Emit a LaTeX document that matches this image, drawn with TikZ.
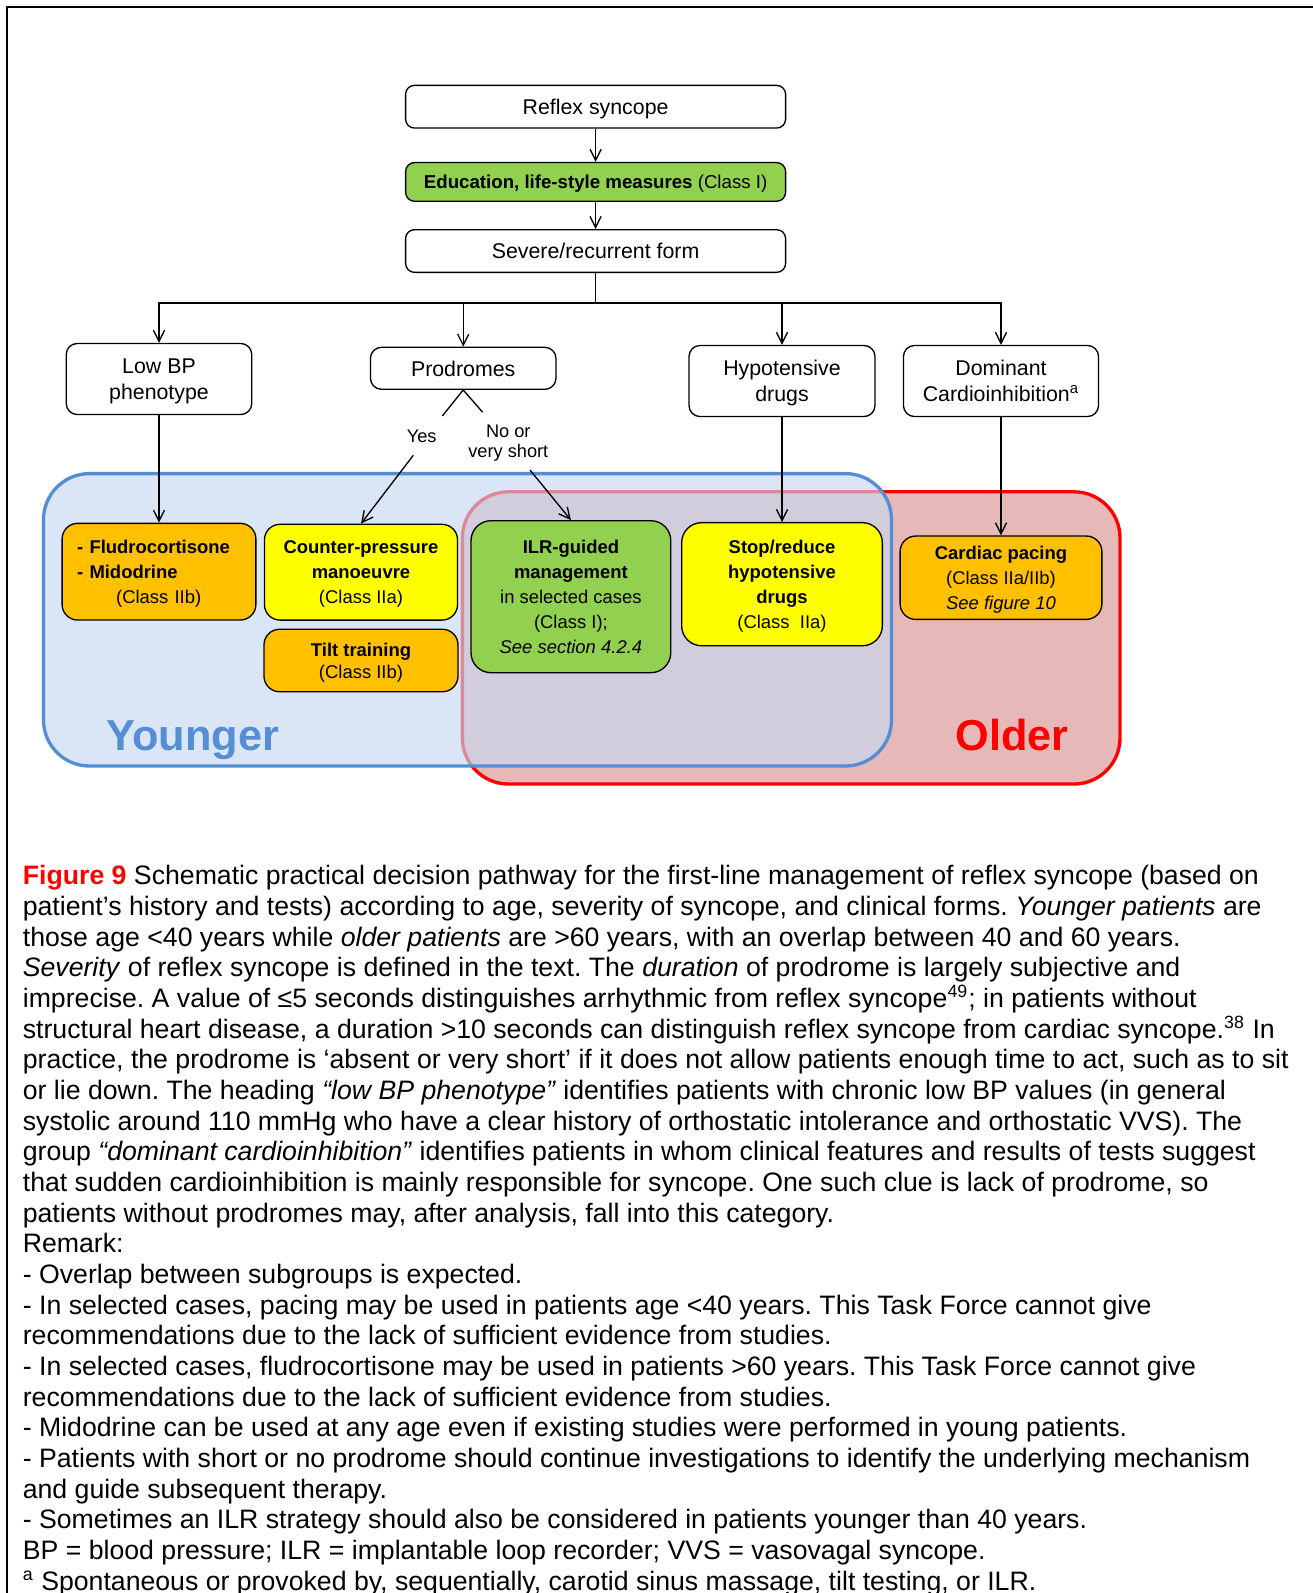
\documentclass[tikz,border=0pt]{standalone}
\usepackage{fontspec}
\setmainfont{Liberation Sans}
\usetikzlibrary{arrows.meta}
\definecolor{bborder}{RGB}{85,142,213}
\definecolor{bfill}{RGB}{198,217,241}
\definecolor{rfill}{RGB}{230,185,184}
\definecolor{rborder}{RGB}{255,0,0}
\definecolor{cgreen}{RGB}{146,208,80}
\definecolor{corange}{RGB}{255,192,0}
\definecolor{cyellow}{RGB}{255,255,0}
\begin{document}
\frenchspacing
\begin{tikzpicture}[x=0.45pt,y=-0.45pt,
  box/.style={draw=black, line width=0.6pt, rounded corners=4pt, align=center, inner sep=0pt, text depth=0pt, font=\fontsize{9.6}{11.9}\selectfont},
  cbox/.style={draw=black, line width=0.6pt, rounded corners=7pt, align=center, inner sep=0pt, text depth=0pt, font=\fontsize{8.3}{11.2}\selectfont},
  arr/.style={-{Straight Barb[length=5pt,width=5pt]}, line width=0.6pt},
  conn/.style={line width=0.6pt},
  lbl/.style={font=\fontsize{8.2}{9}\selectfont, align=center, inner sep=0pt, text depth=0pt},
  region/.style={line width=1.5pt, rounded corners=20.7pt},
  agelbl/.style={font=\fontsize{19.5}{22}\selectfont\bfseries, anchor=base west, inner sep=0pt}
]
\useasboundingbox (0,0) rectangle (1313,1593);
\fill[white] (0,0) rectangle (1313,1593);
% frame
\draw[line width=0.9pt] (7,1600) -- (7,7) -- (1320,7);

% age regions
\draw[region, draw=rborder, fill=rfill] (462.4,491.8) rectangle (1120,784);
\fill[region, fill=bfill, fill opacity=0.64] (43.5,473.6) rectangle (891.5,766);
\draw[region, draw=bborder] (43.5,473.6) rectangle (891.5,766);
\node[agelbl, text=bborder] (younger) at (106,750.5) {Younger};
\node[agelbl, text=rborder] (older) at (955,750.5) {Older};

% top chain
\node[box, minimum width=171pt, minimum height=19.2pt] (reflex) at (595.6,106.7) {Reflex syncope};
\node[box, fill=cgreen, minimum width=171pt, minimum height=17.4pt, font=\fontsize{8.4}{10}\selectfont, text depth=-0.8pt] (edu) at (595.6,181.9) {\textbf{Education, life-style measures} (Class I)};
\node[box, minimum width=171pt, minimum height=19.2pt] (severe) at (595.6,251) {Severe/recurrent form};

% second row
\node[box, rounded corners=5pt, minimum width=83.5pt, minimum height=32pt] (lowbp) at (159,379) {Low BP\\phenotype};
\node[box, rounded corners=5pt, minimum width=83.5pt, minimum height=18.9pt] (prod) at (463.2,368.3) {Prodromes};
\node[box, rounded corners=5pt, minimum width=83.7pt, minimum height=32pt] (hypo) at (782,381) {Hypotensive\\drugs};
\node[box, rounded corners=5pt, minimum width=87.8pt, minimum height=32pt] (dom) at (1001,381) {Dominant\\Cardioinhibition\textsuperscript{a}};

% treatment boxes
\node[cbox, fill=corange, align=left, text width=73.6pt, inner xsep=6.8pt, minimum height=43.5pt, text depth={}] (fludro) at (159,571.7)
  {\rule{0pt}{7.9pt}\textbf{- Fludrocortisone}\\\textbf{- Midodrine}\\\hspace*{17.5pt}(Class IIb)};
\node[cbox, fill=cyellow, minimum width=86.9pt, minimum height=43.1pt] (counter) at (361,572.2)
  {\textbf{Counter-pressure}\\\textbf{manoeuvre}\\(Class IIa)};
\node[cbox, fill=corange, minimum width=87.3pt, minimum height=28.1pt, font=\fontsize{8.3}{10}\selectfont] (tilt) at (361,660.5)
  {\textbf{Tilt training}\\(Class IIb)};
\node[cbox, fill=cgreen, rounded corners=9pt, minimum width=89.9pt, minimum height=68.4pt] (ilr) at (570.9,596.7)
  {\textbf{ILR-guided}\\\textbf{management}\\in selected cases\\(Class I);\\\textit{See section 4.2.4}};
\node[cbox, fill=cyellow, rounded corners=9pt, minimum width=90.3pt, minimum height=55.4pt] (stop) at (782,584.2)
  {\textbf{Stop/reduce}\\\textbf{hypotensive}\\\textbf{drugs}\\(Class\ \ IIa)};
\node[cbox, fill=corange, minimum width=90.8pt, minimum height=37.5pt] (pacing) at (1001,577.7)
  {\textbf{Cardiac pacing}\\(Class IIa/IIb)\\\textit{See figure 10}};

% connectors
\draw[arr] (reflex.south) -- (edu.north);
\draw[arr] (edu.south) -- (severe.north);
\coordinate (bus) at (595.6,302.9);
\draw[conn] (severe.south) -- (bus);
\draw[arr] (bus) -| (lowbp.north);
\draw[arr] (bus) -| (prod.north);
\draw[arr] (bus) -| (hypo.north);
\draw[arr] (bus) -| (dom.north);

\coordinate (yesA) at (442.3,416);
\coordinate (yesB) at (413.3,455.3);
\coordinate (noA) at (482.7,412.3);
\coordinate (noB) at (530,470);
\draw[conn] (prod.south) -- (yesA);
\draw[conn] (prod.south) -- (noA);
\node[lbl] (yes) at (421.7,436.7) {Yes};
\node[lbl] (no) at (508.3,441) {No or\\very short};
\draw[arr] (yesB) -- (counter.north);
\draw[arr] (noB) -- (ilr.north);

\draw[arr] (lowbp.south) -- (fludro.north);
\draw[arr] (hypo.south) -- (stop.north);
\draw[arr] (dom.south) -- (pacing.north);

% caption
\node[anchor=north west, inner sep=0pt, align=left, font=\fontsize{12}{13.8}\selectfont] (caption) at (22.4,862.3) {\rule{0pt}{10pt}{\color{red}\textbf{Figure 9}} Schematic practical decision pathway for the first-line management of reflex syncope (based on\\
patient’s history and tests) according to age, severity of syncope, and clinical forms. \textit{Younger patients} are\\
those age <40 years while \textit{older patients} are >60 years, with an overlap between 40 and 60 years.\\
\textit{Severity} of reflex syncope is defined in the text. The \textit{duration} of prodrome is largely subjective and\\
imprecise. A value of ≤5 seconds distinguishes arrhythmic from reflex syncope\textsuperscript{49}; in patients without\\
structural heart disease, a duration >10 seconds can distinguish reflex syncope from cardiac syncope.\textsuperscript{38} In\\
practice, the prodrome is ‘absent or very short’ if it does not allow patients enough time to act, such as to sit\\
or lie down. The heading \textit{“low BP phenotype”} identifies patients with chronic low BP values (in general\\
systolic around 110 mmHg who have a clear history of orthostatic intolerance and orthostatic VVS). The\\
group \textit{“dominant cardioinhibition”} identifies patients in whom clinical features and results of tests suggest\\
that sudden cardioinhibition is mainly responsible for syncope. One such clue is lack of prodrome, so\\
patients without prodromes may, after analysis, fall into this category.\\
Remark:\\
- Overlap between subgroups is expected.\\
- In selected cases, pacing may be used in patients age <40 years. This Task Force cannot give\\
recommendations due to the lack of sufficient evidence from studies.\\
- In selected cases, fludrocortisone may be used in patients >60 years. This Task Force cannot give\\
recommendations due to the lack of sufficient evidence from studies.\\
- Midodrine can be used at any age even if existing studies were performed in young patients.\\
- Patients with short or no prodrome should continue investigations to identify the underlying mechanism\\
and guide subsequent therapy.\\
- Sometimes an ILR strategy should also be considered in patients younger than 40 years.\\
BP = blood pressure; ILR = implantable loop recorder; VVS = vasovagal syncope.\\
\textsuperscript{a} Spontaneous or provoked by, sequentially, carotid sinus massage, tilt testing, or ILR.};
\end{tikzpicture}
\end{document}
